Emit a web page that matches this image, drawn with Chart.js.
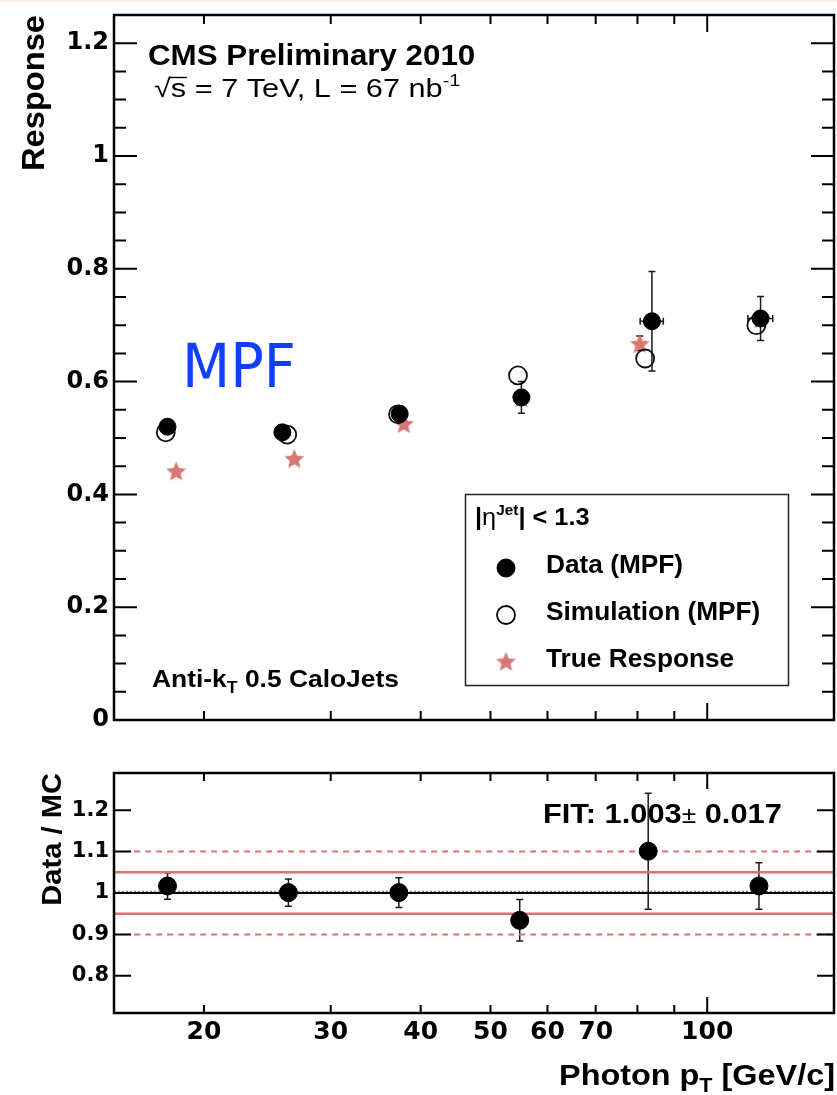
<!DOCTYPE html>
<html>
<head>
<meta charset="utf-8">
<title>CMS MPF response</title>
<script src="https://cdn.jsdelivr.net/npm/chart.js@4.4.0/dist/chart.umd.min.js"></script>
<style>
  html, body { margin: 0; padding: 0; background: #fff; }
  #wrap { position: relative; width: 837px; height: 1095px; overflow: hidden; }
  #strip { position: absolute; left: 0; top: 0; width: 837px; height: 2px; background: #fbeee0; }
  #topChart { position: absolute; left: 0; top: 0; }
  #botChart { position: absolute; left: 0; top: 740px; }
</style>
</head>
<body>
<div id="wrap">
  <canvas id="topChart" width="837" height="740"></canvas>
  <canvas id="botChart" width="837" height="355"></canvas>
  <div id="strip"></div>
</div>
<script>
// data (photon pT in GeV/c)
const dataPt    = [17.8, 25.7, 37.4, 55.2, 83.8, 118.6];
const dataResp  = [0.520, 0.510, 0.543, 0.572, 0.707, 0.712];
const dataErr   = [0.006, 0.006, 0.007, 0.028, 0.088, 0.039];
const dataPtErr = [0.3, 0.4, 0.6, 1.0, 3.1, 4.7];

const simPt   = [17.7, 26.1, 37.2, 54.6, 82.0, 117.0];
const simResp = [0.510, 0.506, 0.542, 0.611, 0.641, 0.700];

const truePt   = [18.3, 26.7, 37.9, 55.2, 80.6, 118.6];
const trueResp = [0.442, 0.464, 0.526, 0.572, 0.668, 0.712];
const trueErr  = [0.003, 0.003, 0.004, 0.006, 0.013, 0.010];

const ratioPt  = [17.8, 26.2, 37.3, 54.9, 82.8, 118.0];
const ratioVal = [1.017, 1.001, 1.001, 0.934, 1.101, 1.017];
const ratioErr = [0.032, 0.033, 0.036, 0.050, 0.140, 0.056];

const fitValue   = 1.003;
const bandInner  = [1.05, 0.95];
const bandOuter  = [1.10, 0.90];

// axes
const ptRange     = [15, 150];
const ptTicks     = [20, 30, 40, 50, 60, 70, 80, 90, 100];
const ptLabels    = [20, 30, 40, 50, 60, 70, 100];
const respRange   = [0, 1.25];
const respLabels  = [0, 0.2, 0.4, 0.6, 0.8, 1, 1.2];
const ratioRange  = [0.71, 1.29];
const ratioLabels = [0.8, 0.9, 1, 1.1, 1.2];

const F = '"Liberation Sans", Arial, Helvetica, sans-serif';
const TF = '"DejaVu Sans", "Liberation Sans", sans-serif';
const RED = 'rgb(224,112,112)';
const STAR = 'rgb(217,118,118)';

function xy(xs, ys) { return xs.map((x, i) => ({x: x, y: ys[i]})); }

function makeStar(size, color) {
  const c = document.createElement('canvas');
  c.width = size; c.height = size;
  const g = c.getContext('2d');
  const cx = size / 2, cy = size / 2 + size * 0.06, R = size / 2, r = R * 0.45;
  g.beginPath();
  for (let i = 0; i < 10; i++) {
    const rad = i % 2 ? r : R;
    const a = -Math.PI / 2 + i * Math.PI / 5;
    g.lineTo(cx + rad * Math.cos(a), cy + rad * Math.sin(a));
  }
  g.closePath();
  g.fillStyle = color;
  g.fill();
  return c;
}
const starImg = makeStar(21, STAR);

// text with sub/superscripts, slightly widened like the ROOT output
function rich(ctx, x, y, parts, opt) {
  opt = opt || {};
  const sx = opt.sx || 1.08;
  ctx.save();
  ctx.translate(x, y);
  if (opt.rot) ctx.rotate(opt.rot);
  ctx.scale(sx, 1);
  ctx.textBaseline = 'alphabetic';
  ctx.textAlign = 'left';
  ctx.fillStyle = opt.color || '#000';
  let w = 0;
  parts.forEach(p => { ctx.font = p[1]; w += ctx.measureText(p[0]).width; });
  let cx = opt.align === 'right' ? -w : 0;
  const pos = [];
  parts.forEach(p => {
    ctx.font = p[1];
    pos.push(cx);
    ctx.fillText(p[0], cx, p[2] || 0);
    cx += ctx.measureText(p[0]).width;
  });
  ctx.restore();
  return pos.map(v => x + v * sx);
}

function errBars(ctx, xs, ys, px, py, ey, ex) {
  ctx.save();
  ctx.strokeStyle = '#1a1a1a';
  ctx.lineWidth = 1.5;
  px.forEach((xv, i) => {
    const X = xs.getPixelForValue(xv);
    const Y = ys.getPixelForValue(py[i]);
    const y1 = ys.getPixelForValue(py[i] + ey[i]);
    const y2 = ys.getPixelForValue(py[i] - ey[i]);
    ctx.beginPath();
    ctx.moveTo(X, y1); ctx.lineTo(X, y2);
    ctx.moveTo(X - 3.5, y1); ctx.lineTo(X + 3.5, y1);
    ctx.moveTo(X - 3.5, y2); ctx.lineTo(X + 3.5, y2);
    if (ex) {
      const x1 = xs.getPixelForValue(xv - ex[i]);
      const x2 = xs.getPixelForValue(xv + ex[i]);
      ctx.moveTo(x1, Y); ctx.lineTo(x2, Y);
      ctx.moveTo(x1, Y - 3.5); ctx.lineTo(x1, Y + 3.5);
      ctx.moveTo(x2, Y - 3.5); ctx.lineTo(x2, Y + 3.5);
    }
    ctx.stroke();
  });
  ctx.restore();
}

// ROOT style frame with inward ticks
function drawFrame(chart, yMinor, yMajor, yLen, xLen) {
  const ctx = chart.ctx, xs = chart.scales.x, ys = chart.scales.y;
  const {left, right, top, bottom} = chart.chartArea;
  ctx.save();
  ctx.strokeStyle = '#000';
  ctx.lineWidth = 2;
  ctx.beginPath();
  yMinor.forEach(v => {
    const Y = ys.getPixelForValue(v);
    const L = yMajor.some(m => Math.abs(m - v) < 1e-6) ? yLen[0] : yLen[1];
    ctx.moveTo(left, Y); ctx.lineTo(left + L, Y);
    ctx.moveTo(right, Y); ctx.lineTo(right - L, Y);
  });
  ptTicks.forEach(v => {
    const X = xs.getPixelForValue(v);
    const L = v === 100 ? xLen[0] : xLen[1];
    ctx.moveTo(X, bottom); ctx.lineTo(X, bottom - L);
    ctx.moveTo(X, top); ctx.lineTo(X, top + L);
  });
  ctx.stroke();
  ctx.lineWidth = 2.5;
  ctx.strokeRect(left, top, right - left, bottom - top);
  ctx.restore();
}

function xScale(showLabels, height) {
  return {
    type: 'logarithmic', min: ptRange[0], max: ptRange[1],
    afterBuildTicks: s => { s.ticks = ptTicks.map(v => ({value: v})); },
    afterFit: s => { s.height = height; s.paddingLeft = 0; s.paddingRight = 0; },
    grid: { display: false, drawTicks: false },
    border: { display: false },
    ticks: {
      display: showLabels, autoSkip: false, maxRotation: 0, padding: 4, color: '#000',
      font: { family: TF, weight: 'bold', size: 25 },
      callback: v => ptLabels.includes(v) ? String(v) : ''
    }
  };
}

function yScale(range, labels, size) {
  return {
    type: 'linear', min: range[0], max: range[1],
    afterBuildTicks: s => { s.ticks = labels.map(v => ({value: v})); },
    afterFit: s => { s.width = 114; s.paddingTop = 0; s.paddingBottom = 0; },
    grid: { display: false, drawTicks: false },
    border: { display: false },
    ticks: {
      autoSkip: false, padding: 5, color: '#000',
      font: { family: TF, weight: 'bold', size: size },
      callback: v => String(+v.toFixed(2))
    }
  };
}

// ---------- top panel ----------
const respMinor = [];
for (let v = 0; v <= 1.2501; v += 0.05) respMinor.push(+v.toFixed(2));

const topPlugin = {
  id: 'topDecor',
  beforeDatasetsDraw(chart) {
    const ctx = chart.ctx, xs = chart.scales.x, ys = chart.scales.y;
    errBars(ctx, xs, ys, truePt, trueResp, trueErr);
    errBars(ctx, xs, ys, dataPt, dataResp, dataErr, dataPtErr);
  },
  afterDraw(chart) {
    const ctx = chart.ctx;
    drawFrame(chart, respMinor, respLabels, [23, 12], [17, 9]);

    rich(ctx, 44, 15, [['Response', `bold 32px ${F}`]], {rot: -Math.PI / 2, align: 'right', sx: 1.02});
    rich(ctx, 148, 65, [['CMS Preliminary 2010', `bold 29px ${F}`]], {sx: 1.08});
    const p = rich(ctx, 154, 97, [['\u221A', `26px ${F}`], ['s = 7 TeV, L = 67 nb', `26px ${F}`], ['-1', `17px ${F}`, -11]], {sx: 1.18});
    ctx.save();
    ctx.strokeStyle = '#000'; ctx.lineWidth = 1.4;
    ctx.beginPath(); ctx.moveTo(p[1] - 1, 77.5); ctx.lineTo(p[1] + 16, 77.5); ctx.stroke();
    ctx.restore();
    rich(ctx, 182, 387, [['MPF', `60px "DejaVu Sans", ${F}`]], {color: 'rgb(18,62,255)', sx: 0.93});
    rich(ctx, 152, 687, [['Anti-k', `bold 24px ${F}`], ['T', `bold 16px ${F}`, 6], [' 0.5 CaloJets', `bold 24px ${F}`]], {sx: 1.1});

    // legend
    ctx.save();
    ctx.strokeStyle = '#222'; ctx.lineWidth = 1.5;
    ctx.strokeRect(465.5, 494.5, 323, 191);
    ctx.restore();
    rich(ctx, 475, 525, [['|', `bold 23px ${F}`], ['\u03B7', `23px ${F}`], ['Jet', `bold 14px ${F}`, -10], ['| < 1.3', `bold 23px ${F}`]], {sx: 1.1});
    const H = Chart.helpers;
    ctx.save();
    ctx.fillStyle = '#000'; ctx.strokeStyle = '#000';
    H.drawPoint(ctx, {pointStyle: 'circle', radius: 9, borderWidth: 1}, 506, 568);
    ctx.fillStyle = 'rgba(0,0,0,0)'; ctx.lineWidth = 1.8;
    H.drawPoint(ctx, {pointStyle: 'circle', radius: 9, borderWidth: 1.8}, 506, 615);
    H.drawPoint(ctx, {pointStyle: starImg, radius: 10, borderWidth: 0}, 506, 661);
    ctx.restore();
    rich(ctx, 546, 573, [['Data (MPF)', `bold 25px ${F}`]], {sx: 1.05});
    rich(ctx, 546, 620, [['Simulation (MPF)', `bold 25px ${F}`]], {sx: 1.05});
    rich(ctx, 546, 667, [['True Response', `bold 25px ${F}`]], {sx: 1.05});
  }
};

new Chart(document.getElementById('topChart'), {
  type: 'scatter',
  data: {
    datasets: [
      { label: 'Data (MPF)', data: xy(dataPt, dataResp), pointStyle: 'circle', pointRadius: 8.5,
        backgroundColor: '#000', borderColor: '#000', pointBorderWidth: 1 },
      { label: 'Simulation (MPF)', data: xy(simPt, simResp), pointStyle: 'circle', pointRadius: 9,
        backgroundColor: 'rgba(0,0,0,0)', borderColor: '#111', pointBorderWidth: 1.8 },
      { label: 'True Response', data: xy(truePt, trueResp), pointStyle: starImg, pointRadius: 10,
        backgroundColor: STAR, borderColor: STAR }
    ]
  },
  options: {
    responsive: false, animation: false, events: [],
    layout: { autoPadding: false, padding: { top: 15, right: 3, left: 0, bottom: 0 } },
    plugins: { legend: { display: false }, tooltip: { enabled: false } },
    scales: {
      x: xScale(false, 20),
      y: yScale(respRange, respLabels, 24)
    }
  },
  plugins: [topPlugin]
});

// ---------- bottom panel ----------
function hline(y, x0, color, width, dash) {
  return { data: [{x: x0, y: y}, {x: ptRange[1], y: y}], showLine: true, pointRadius: 0,
           borderColor: color, borderWidth: width, borderDash: dash || [], order: 5 };
}

const botPlugin = {
  id: 'botDecor',
  beforeDatasetsDraw(chart) {
    errBars(chart.ctx, chart.scales.x, chart.scales.y, ratioPt, ratioVal, ratioErr);
  },
  afterDraw(chart) {
    const ctx = chart.ctx;
    drawFrame(chart, ratioLabels, ratioLabels, [17, 17], [16, 8]);
    rich(ctx, 61, 33, [['Data / MC', `bold 28px ${F}`]], {rot: -Math.PI / 2, align: 'right', sx: 1.04});
    rich(ctx, 543, 83, [['FIT: 1.003', `bold 28px ${F}`], ['\u00B1', `24px ${F}`], [' 0.017', `bold 28px ${F}`]], {sx: 1.1});
    rich(ctx, 835, 345, [['Photon p', `bold 30px ${F}`], ['T', `bold 20px ${F}`, 7], [' [GeV/c]', `bold 30px ${F}`]], {align: 'right', sx: 1.08});
  }
};

new Chart(document.getElementById('botChart'), {
  type: 'scatter',
  data: {
    datasets: [
      { label: 'Data / MC', data: xy(ratioPt, ratioVal), pointStyle: 'circle', pointRadius: 9,
        backgroundColor: '#000', borderColor: '#000', pointBorderWidth: 1, order: 0 },
      hline(1.0, ptRange[0], '#000', 2),
      hline(fitValue, ptRange[0], 'rgb(100,140,235)', 2, [2, 2]),
      hline(bandInner[0], ptRange[0], RED, 2.5),
      hline(bandInner[1], ptRange[0], RED, 2.5),
      hline(bandOuter[0], 16, RED, 2, [6, 5]),
      hline(bandOuter[1], 16, RED, 2, [6, 5])
    ]
  },
  options: {
    responsive: false, animation: false, events: [],
    layout: { autoPadding: false, padding: { top: 33, right: 3, left: 0, bottom: 0 } },
    plugins: { legend: { display: false }, tooltip: { enabled: false } },
    scales: {
      x: xScale(true, 82),
      y: yScale(ratioRange, ratioLabels, 21)
    }
  },
  plugins: [botPlugin]
});
</script>
</body>
</html>
